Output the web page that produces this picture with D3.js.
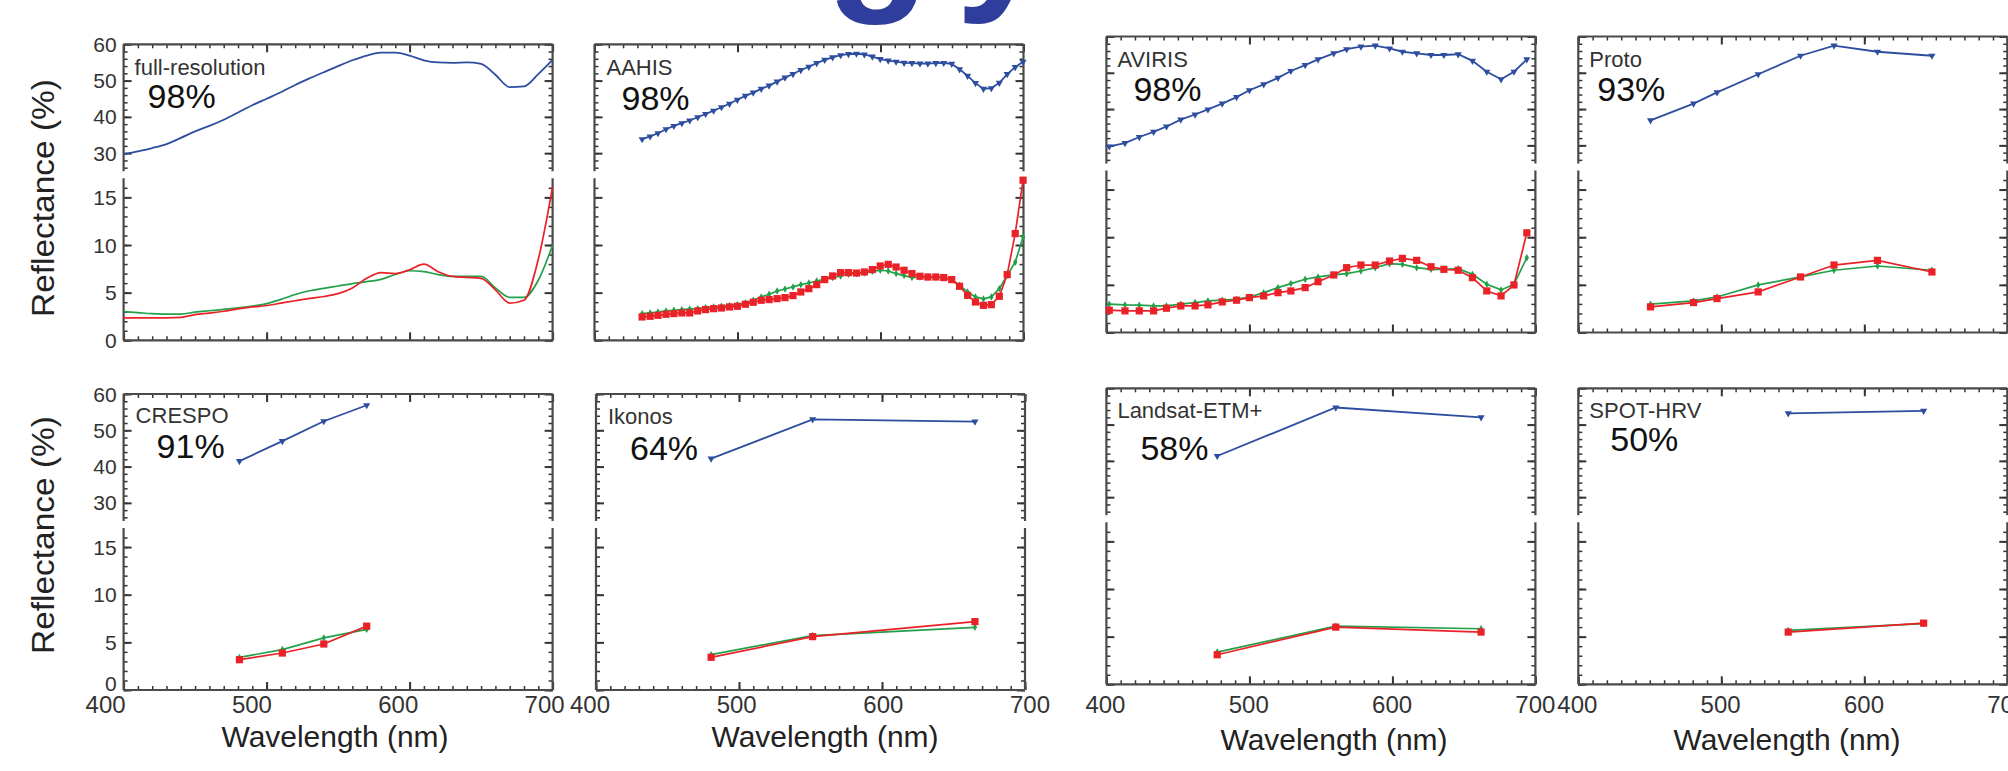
<!DOCTYPE html>
<html>
<head>
<meta charset="utf-8">
<script src="https://cdn.jsdelivr.net/npm/d3@7"></script>
<style>
  body { margin: 0; background: #fff; }
  svg { display: block; font-family: "Liberation Sans", Arial, sans-serif; }
</style>
</head>
<body>
<div id="chart"></div>
<script>
// ---- data: reflectance (%) ----
var fullWl = [400,410,420,430,440,450,460,470,480,490,500,510,520,530,540,550,560,570,580,590,600,610,620,630,640,650,660,670,680,690,700];
var fullBlue = [29.7,30.5,31.4,32.5,34.2,36.0,37.5,39.2,41.2,43.2,45.0,46.8,48.8,50.6,52.3,54.0,55.6,56.9,57.7,57.7,56.9,55.6,55.0,54.9,55.0,54.6,51.6,48.2,48.4,51.8,55.7];
var fullGreen = [3.0,2.9,2.8,2.75,2.75,2.95,3.1,3.25,3.4,3.6,3.85,4.3,4.8,5.2,5.45,5.7,5.95,6.15,6.4,6.9,7.3,7.2,6.9,6.7,6.7,6.7,5.5,4.5,4.5,6.3,10.0];
var fullRed = [2.35,2.35,2.35,2.35,2.4,2.7,2.85,3.05,3.3,3.5,3.65,3.9,4.15,4.4,4.6,4.9,5.5,6.5,7.1,7.0,7.4,8.0,7.2,6.7,6.6,6.5,5.3,3.9,4.2,8.5,16.1];

var aahisWl = [433.3,438.9,444.4,450.0,455.5,461.1,466.6,472.2,477.7,483.3,488.8,494.4,499.9,505.5,511.0,516.6,522.1,527.7,533.2,538.8,544.3,549.9,555.4,561.0,566.5,572.1,577.6,583.2,588.7,594.3,599.8,605.4,610.9,616.5,622.0,627.6,633.1,638.7,644.2,649.8,655.3,660.9,666.4,672.0,677.5,683.1,688.6,694.2,699.7];
var aahisBlue = [33.85,34.6,35.5,36.6,37.5,38.25,39.0,39.9,40.8,41.7,42.65,43.6,44.7,45.8,46.7,47.7,48.6,49.7,50.8,51.8,52.9,53.8,54.8,55.7,56.4,57.0,57.3,57.4,57.2,56.6,55.9,55.5,55.2,54.9,54.8,54.7,54.7,54.8,54.85,54.6,53.1,51.3,49.3,47.7,47.9,49.4,51.8,53.7,55.2];
var aahisGreen = [2.8,2.87,2.97,3.08,3.15,3.22,3.29,3.32,3.43,3.5,3.57,3.64,3.74,3.92,4.2,4.55,4.83,5.17,5.38,5.6,5.84,6.01,6.22,6.43,6.58,6.75,6.93,7.0,7.06,7.24,7.35,7.27,7.0,6.79,6.58,6.64,6.64,6.64,6.58,6.37,5.77,5.07,4.55,4.34,4.55,5.42,6.82,8.2,10.84];
var aahisRed = [2.45,2.52,2.62,2.73,2.8,2.87,2.87,3.08,3.22,3.32,3.39,3.5,3.57,3.78,3.99,4.2,4.27,4.37,4.48,4.69,5.07,5.42,5.84,6.37,6.75,7.1,7.1,7.06,7.17,7.42,7.8,7.97,7.69,7.35,7.0,6.72,6.64,6.64,6.58,6.37,5.67,4.72,4.02,3.67,3.74,4.62,6.89,11.2,16.8];

var avirisWl = [402,413,423,433,442,452,462,471,481,491,500,510,520,529,539,548,559,568,578,588,598,607,617,627,636,646,656,666,676,685,694];
var avirisBlue = [29.7,30.6,32.3,33.7,35.2,37.1,38.5,39.9,41.5,43.3,45.2,46.8,48.6,50.5,52.1,53.7,55.35,56.5,57.2,57.5,56.7,55.8,55.35,54.9,54.9,55.1,53.3,50.3,48.2,50.3,53.7];
var avirisGreen = [2.97,2.9,2.87,2.79,2.79,2.97,3.14,3.32,3.39,3.49,3.73,4.18,4.71,5.13,5.59,5.83,6.04,6.17,6.45,6.8,7.22,7.15,6.8,6.63,6.63,6.7,6.1,5.06,4.47,5.06,7.85];
var avirisRed = [2.34,2.27,2.27,2.27,2.55,2.79,2.79,2.9,3.21,3.39,3.66,3.84,4.18,4.36,4.71,5.33,6.04,6.8,7.08,7.08,7.5,7.78,7.57,6.9,6.63,6.53,5.75,4.36,3.84,4.99,10.46];

var protoWl = [450.5,480.6,497,525.8,555.4,578.8,609.2,647.3];
var protoBlue = [36.9,41.5,44.6,49.6,54.7,57.5,55.8,54.7];
var protoGreen = [2.97,3.32,3.73,4.99,5.83,6.53,6.98,6.53];
var protoRed = [2.69,3.14,3.56,4.26,5.83,7.08,7.57,6.35];

var crespoWl = [481,511,540,570];
var crespoBlue = [41.5,47.0,52.5,56.9];
var crespoGreen = [3.42,4.24,5.47,6.36];
var crespoRed = [3.18,3.88,4.83,6.7];

var ikonosWl = [480.5,551.5,665];
var ikonosBlue = [42.2,53.0,52.4];
var ikonosGreen = [3.71,5.71,6.58];
var ikonosRed = [3.43,5.6,7.18];

var landsatWl = [477.5,560.4,662];
var landsatBlue = [41.35,54.7,52.0];
var landsatGreen = [3.38,6.1,5.83];
var landsatRed = [3.1,6.0,5.48];

var spotWl = [546.8,641.5];
var spotBlue = [53.1,53.8];
var spotGreen = [5.65,6.36];
var spotRed = [5.48,6.42];

var sensorNames = ["full-resolution","AAHIS","AVIRIS","Proto","CRESPO","Ikonos","Landsat-ETM+","SPOT-HRV"];
var sensorScores = ["98%","98%","98%","93%","91%","64%","58%","50%"];

var yTicksUpper = [30,40,50,60];
var yTicksLower = [0,5,10,15];
var xTicks = [400,500,600,700];

// ---- layout ----
var svgWidth = 2008, svgHeight = 771;
var pw = 429, ph = 296;           // panel size
var upperBottom = 127, lowerTop = 134;

var colors = { blue: "#2d4d9f", green: "#22a04a", red: "#ea2228" };

// xLab: [title centre x, title baseline, label shift at 400, label shift at 700]
var panels = [
  { x: 123.6,  y: 44.3,  wl: fullWl,    b: fullBlue,    g: fullGreen,    r: fullRed,    smooth: true, name: [11, 31], pct: [24, 64], yLab: true },
  { x: 594.5,  y: 44.3,  wl: aahisWl,   b: aahisBlue,   g: aahisGreen,   r: aahisRed,   name: [12, 31], pct: [27, 66] },
  { x: 1106.4, y: 36.5,  wl: avirisWl,  b: avirisBlue,  g: avirisGreen,  r: avirisRed,  name: [11, 30], pct: [27, 64] },
  { x: 1578.3, y: 36.5,  wl: protoWl,   b: protoBlue,   g: protoGreen,   r: protoRed,   name: [11, 30], pct: [19, 64] },
  { x: 123.6,  y: 394,   wl: crespoWl,  b: crespoBlue,  g: crespoGreen,  r: crespoRed,  name: [12, 29], pct: [33, 64], yLab: true, xLab: [335, 747, -18, -8] },
  { x: 596,    y: 394,   wl: ikonosWl,  b: ikonosBlue,  g: ikonosGreen,  r: ikonosRed,  name: [12, 30], pct: [34, 66], xLab: [825, 747, -6, 5] },
  { x: 1106.4, y: 388.3, wl: landsatWl, b: landsatBlue, g: landsatGreen, r: landsatRed, name: [11, 30], pct: [34, 72], xLab: [1334, 750, -1, 0] },
  { x: 1578.3, y: 388.3, wl: spotWl,    b: spotBlue,    g: spotGreen,    r: spotRed,    name: [11, 30], pct: [32, 63], xLab: [1787, 750, -1, 0] }
];

var svg = d3.select("#chart")
  .append("svg")
  .attr("width", svgWidth)
  .attr("height", svgHeight);

svg.append("rect").attr("width", svgWidth).attr("height", svgHeight).attr("fill", "#fff");

// title of the slide, cut off by the top edge (only descenders show)
svg.append("text")
  .attr("x", 826)
  .attr("y", -11)
  .attr("font-size", 170)
  .attr("font-weight", "bold")
  .attr("letter-spacing", 26)
  .attr("fill", "#2f3d9c")
  .text("gy");

var xScale = d3.scaleLinear().domain([400, 700]).range([0, pw]);
var yUpper = d3.scaleLinear().domain([25, 60]).range([upperBottom, 0]);
var yLower = d3.scaleLinear().domain([0, 17]).range([ph, lowerTop]);

// values above 20 go to the upper (blue) block, the rest to the lower block
function yOf(v) { return v > 20 ? yUpper(v) : yLower(v); }

panels.forEach(function(p, i) {
  var g = svg.append("g").attr("transform", "translate(" + p.x + "," + p.y + ")");

  // inward ticks on all four sides
  function tickAxis(axis, values, size, width, tr) {
    var a = g.append("g")
      .attr("transform", tr || null)
      .call(axis.tickValues(values).tickSize(size).tickFormat(""));
    a.select(".domain").remove();
    a.selectAll("line").attr("stroke", "#333").attr("stroke-width", width);
  }
  var xMinor = xScale.ticks(30);
  tickAxis(d3.axisBottom(xScale), xMinor, -4, 1.5, "translate(0," + ph + ")");
  tickAxis(d3.axisBottom(xScale), xTicks, -8, 2, "translate(0," + ph + ")");
  tickAxis(d3.axisTop(xScale), xMinor, -4, 1.5);
  tickAxis(d3.axisTop(xScale), xTicks, -8, 2);

  var upMinor = yUpper.ticks(18).filter(function(d) { return d > 25; });
  var loMinor = yLower.ticks(17).filter(function(d) { return d < 17; });
  [[d3.axisLeft, null], [d3.axisRight, "translate(" + pw + ",0)"]].forEach(function(side) {
    tickAxis(side[0](yUpper), upMinor, -4, 1.5, side[1]);
    tickAxis(side[0](yUpper), yTicksUpper, -8, 2, side[1]);
    tickAxis(side[0](yLower), loMinor, -4, 1.5, side[1]);
    tickAxis(side[0](yLower), yTicksLower, -8, 2, side[1]);
  });

  // frame, broken on the sides between the two blocks
  var frame = "M0,0H" + pw + "M0," + ph + "H" + pw +
    "M0,0V" + upperBottom + "M0," + lowerTop + "V" + ph +
    "M" + pw + ",0V" + upperBottom + "M" + pw + "," + lowerTop + "V" + ph;
  g.append("path").attr("d", frame).attr("fill", "none")
    .attr("stroke", "#4a4a4a").attr("stroke-width", 2.2);

  // y tick labels on the left column
  if (p.yLab) {
    g.selectAll(".ylu").data(yTicksUpper).enter().append("text")
      .attr("x", -7).attr("y", function(d) { return yUpper(d); })
      .attr("dy", "0.36em").attr("text-anchor", "end")
      .attr("font-size", 21).attr("fill", "#333").text(function(d) { return d; });
    g.selectAll(".yll").data(yTicksLower).enter().append("text")
      .attr("x", -7).attr("y", function(d) { return yLower(d); })
      // the bottom "0" sits a little higher so it clears the 400 below it
      .attr("dy", function(d) { return d === 0 && p.xLab ? "0.05em" : "0.36em"; })
      .attr("text-anchor", "end")
      .attr("font-size", 21).attr("fill", "#333").text(function(d) { return d; });
  }

  // x tick labels on the bottom row (the scan sets them slightly off the ticks)
  if (p.xLab) {
    var xLabScale = d3.scaleLinear().domain([400, 700]).range([p.xLab[2], pw + p.xLab[3]]);
    g.selectAll(".xl").data(xTicks).enter().append("text")
      .attr("x", function(d) { return xLabScale(d); })
      .attr("y", 713 - p.y)
      .attr("text-anchor", "middle")
      .attr("font-size", 24).attr("fill", "#333").text(function(d) { return d; });
  }

  // series
  var rows = p.wl.map(function(w, j) { return { wl: w, b: p.b[j], gr: p.g[j], r: p.r[j] }; });
  var curve = p.smooth ? d3.curveMonotoneX : d3.curveLinear;
  function series(key, color, width) {
    var line = d3.line().curve(curve)
      .x(function(d) { return xScale(d.wl); })
      .y(function(d) { return yOf(d[key]); });
    g.append("path").datum(rows).attr("d", line)
      .attr("fill", "none").attr("stroke", color).attr("stroke-width", width);
  }
  series("b", colors.blue, 1.8);
  series("gr", colors.green, 1.7);
  series("r", colors.red, 1.7);

  if (!p.smooth) {
    var tri = d3.symbol().type(d3.symbolTriangle).size(22);
    var dia = d3.symbol().type(d3.symbolDiamond).size(16);
    var sq = d3.symbol().type(d3.symbolSquare).size(52);
    g.selectAll(".mb").data(rows).enter().append("path")
      .attr("d", tri)
      .attr("transform", function(d) { return "translate(" + xScale(d.wl) + "," + yOf(d.b) + ") rotate(180)"; })
      .attr("fill", colors.blue);
    g.selectAll(".mg").data(rows).enter().append("path")
      .attr("d", dia)
      .attr("transform", function(d) { return "translate(" + xScale(d.wl) + "," + yOf(d.gr) + ")"; })
      .attr("fill", colors.green);
    g.selectAll(".mr").data(rows).enter().append("path")
      .attr("d", sq)
      .attr("transform", function(d) { return "translate(" + xScale(d.wl) + "," + yOf(d.r) + ")"; })
      .attr("fill", colors.red);
  }

  // sensor name and score
  g.append("text").attr("x", p.name[0]).attr("y", p.name[1])
    .attr("font-size", 22).attr("fill", "#333").text(sensorNames[i]);
  g.append("text").attr("x", p.pct[0]).attr("y", p.pct[1])
    .attr("font-size", 34).attr("fill", "#111").text(sensorScores[i]);

  if (p.xLab) {
    svg.append("text")
      .attr("x", p.xLab[0]).attr("y", p.xLab[1])
      .attr("text-anchor", "middle")
      .attr("font-size", 29).attr("fill", "#222")
      .attr("textLength", 227).attr("lengthAdjust", "spacingAndGlyphs")
      .text("Wavelength (nm)");
  }
});

// shared y-axis titles
[198, 535].forEach(function(cy) {
  svg.append("text")
    .attr("transform", "translate(54," + cy + ") rotate(-90)")
    .attr("text-anchor", "middle")
    .attr("font-size", 31).attr("fill", "#222")
    .attr("textLength", 238).attr("lengthAdjust", "spacingAndGlyphs")
    .text("Reflectance (%)");
});
</script>
</body>
</html>
